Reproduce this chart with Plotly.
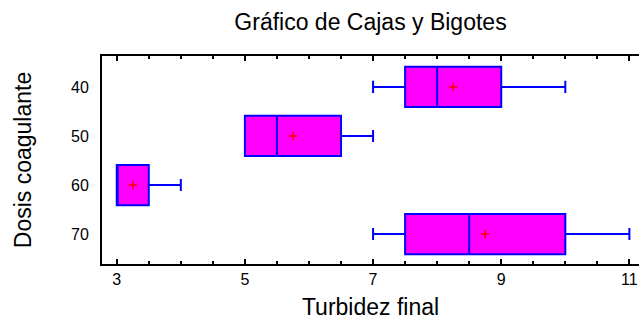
import plotly.graph_objects as go

# Turbidity summary per coagulant dose
doses = ["40", "50", "60", "70"]
lower_whisker = [7.0, 5.0, 3.0, 7.0]
q1_vals = [7.5, 5.0, 3.0, 7.5]
median_vals = [8.0, 5.5, 3.0, 8.5]
q3_vals = [9.0, 6.5, 3.5, 10.0]
upper_whisker = [10.0, 7.0, 4.0, 11.0]
mean_vals = [8.25, 5.75, 3.25, 8.75]

positions = list(range(len(doses)))

FONT = "Liberation Sans, Arial, sans-serif"

fig = go.Figure()

fig.add_trace(go.Box(
    y=positions,
    q1=q1_vals,
    median=median_vals,
    q3=q3_vals,
    lowerfence=lower_whisker,
    upperfence=upper_whisker,
    orientation="h",
    width=0.82,
    whiskerwidth=0.3,
    fillcolor="#FF00FF",
    line=dict(color="#0000FF", width=2),
    showlegend=False,
    hoverinfo="skip",
))

fig.add_trace(go.Scatter(
    x=mean_vals,
    y=positions,
    mode="markers",
    marker=dict(symbol="cross-thin", size=6, line=dict(color="#FF0000", width=1.5)),
    showlegend=False,
    hoverinfo="skip",
))

fig.update_layout(
    width=639,
    height=320,
    margin=dict(l=102, r=0, t=56, b=56),
    paper_bgcolor="white",
    plot_bgcolor="white",
    font=dict(family=FONT, color="black", size=16),
    title=dict(
        text="Gráfico de Cajas y Bigotes",
        font=dict(family=FONT, size=23, color="black"),
        x=0.5, xref="paper", xanchor="center",
        y=1 - 22 / 320, yref="container", yanchor="middle",
    ),
    xaxis=dict(
        range=[2.77, 11.15],
        tickvals=[3, 5, 7, 9, 11],
        ticks="inside",
        ticklen=5,
        tickwidth=2,
        tickcolor="black",
        minor=dict(ticks="inside", dtick=0.5, tick0=3, ticklen=3, tickwidth=1.5, tickcolor="black"),
        showline=True,
        linecolor="black",
        linewidth=2,
        mirror="allticks",
        showgrid=False,
        zeroline=False,
        tickfont=dict(size=16),
        title=dict(text="Turbidez final", font=dict(size=23), standoff=13),
    ),
    yaxis=dict(
        range=[3.61, -0.63],
        tickvals=positions,
        ticktext=doses,
        ticks="",
        showline=True,
        linecolor="black",
        linewidth=2,
        mirror=False,
        showgrid=False,
        zeroline=False,
        tickfont=dict(size=16),
        ticklabelstandoff=8,
        title=dict(text="Dosis coagulante", font=dict(size=23), standoff=33),
    ),
)

fig.write_html("out.html")
